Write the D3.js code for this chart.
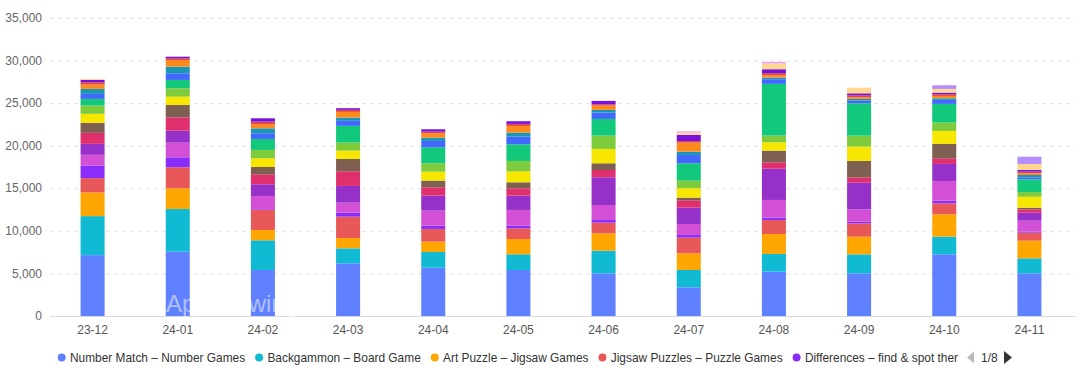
<!DOCTYPE html>
<html>
<head>
<meta charset="utf-8">
<script src="https://cdn.jsdelivr.net/npm/d3@7"></script>
<style>
  body { margin: 0; background: #fff; }
  svg { display: block; font-family: "Liberation Sans", Arial, Helvetica, sans-serif; }
</style>
</head>
<body>
<div id="chart"></div>
<script>
const months = ["23-12", "24-01", "24-02", "24-03", "24-04", "24-05", "24-06", "24-07", "24-08", "24-09", "24-10", "24-11"]

// series values, bottom of the stack first
const numberMatch = [7150, 7560, 5405, 6190, 5680, 5405, 5010, 3370, 5210, 5010, 7245, 5010]
const backgammon = [4580, 5010, 3485, 1760, 1840, 1840, 2665, 2035, 2075, 2230, 2075, 1760]
const artPuzzle = [2780, 2430, 1215, 1215, 1215, 1800, 2035, 1960, 2350, 2075, 2625, 2075]
const jigsawPuzzles = [1680, 2465, 2350, 2505, 1490, 1255, 1255, 1840, 1645, 1565, 1290, 940]
const differences = [1490, 1175, 80, 470, 390, 315, 315, 315, 275, 195, 315, 120]
const series6 = [1250, 1720, 1565, 1175, 1760, 1840, 1760, 1290, 2075, 1450, 2310, 1290]
const series7 = [1290, 1410, 1370, 1960, 1760, 1685, 3250, 1920, 3680, 3135, 2000, 940]
const series8 = [1290, 1565, 1175, 1725, 980, 860, 860, 860, 745, 625, 665, 390]
const series9 = [1175, 1450, 860, 1450, 785, 705, 785, 315, 1370, 1920, 1685, 195]
const series10 = [1055, 980, 1020, 980, 1055, 1290, 1685, 1095, 980, 1685, 1525, 1290]
const series11 = [980, 980, 980, 940, 980, 1215, 1565, 900, 785, 1290, 980, 550]
const series12 = [780, 980, 1290, 1960, 1880, 1960, 1960, 2035, 6070, 3800, 2195, 1490]
const series13 = [585, 780, 665, 590, 745, 900, 745, 980, 550, 315, 470, 235]
const series14 = [585, 780, 585, 390, 390, 470, 315, 390, 195, 195, 195, 275]
const series15 = [510, 780, 470, 665, 510, 785, 510, 1055, 275, 195, 275, 195]
const series16 = [275, 195, 315, 235, 195, 235, 155, 195, 235, 235, 195, 195]
const series17 = [275, 195, 390, 195, 275, 315, 390, 705, 470, 235, 195, 195]
const series18 = [117, 0, 0, 0, 0, 0, 0, 275, 665, 665, 430, 705]
const series19 = [0, 0, 0, 0, 0, 0, 0, 155, 195, 0, 0, 0]
const series20 = [0, 0, 0, 0, 0, 0, 0, 0, 0, 0, 430, 860]

const seriesNames = [
  "Number Match – Number Games",
  "Backgammon – Board Game",
  "Art Puzzle – Jigsaw Games",
  "Jigsaw Puzzles – Puzzle Games",
  "Differences – find & spot ther",
  "Series 6", "Series 7", "Series 8", "Series 9", "Series 10",
  "Series 11", "Series 12", "Series 13", "Series 14", "Series 15",
  "Series 16", "Series 17", "Series 18", "Series 19", "Series 20"
]
const seriesValues = [
  numberMatch, backgammon, artPuzzle, jigsawPuzzles, differences,
  series6, series7, series8, series9, series10,
  series11, series12, series13, series14, series15,
  series16, series17, series18, series19, series20
]
const colors = [
  "#5f80ff", "#10bad3", "#ffa600", "#e85858", "#8a2dfb",
  "#d24fd6", "#9531c8", "#df306d", "#7e6052", "#f6e600",
  "#7ecb3e", "#12c97b", "#4368ff", "#1a97b5", "#ff8a1c",
  "#e04646", "#7a10de", "#ffd78e", "#eea0f0", "#b48eff"
]
const yTicks = [0, 5000, 10000, 15000, 20000, 25000, 30000, 35000]

const width = 1080
const height = 373

const rows = months.map((m, i) => {
  const row = { month: m }
  seriesNames.forEach((s, j) => (row[s] = seriesValues[j][i]))
  return row
})

const stacked = d3.stack().keys(seriesNames)(rows)

const x = d3
  .scaleBand()
  .domain(months)
  .range([50, 1072])
  .paddingInner(0.718)
  .paddingOuter(0.359)

const y = d3.scaleLinear().domain([0, 35000]).range([316, 18])

const svg = d3
  .select("#chart")
  .append("svg")
  .attr("width", width)
  .attr("height", height)

// grid
svg
  .append("g")
  .selectAll("line")
  .data(yTicks.filter(d => d > 0))
  .enter()
  .append("line")
  .attr("x1", 50)
  .attr("x2", 1075)
  .attr("y1", d => y(d) + 0.5)
  .attr("y2", d => y(d) + 0.5)
  .style("stroke", "#e3e3e3")
  .style("stroke-dasharray", "4,4")

svg
  .append("line")
  .attr("x1", 50)
  .attr("x2", 1075)
  .attr("y1", y(0) + 0.5)
  .attr("y2", y(0) + 0.5)
  .style("stroke", "#d9d9d9")

// y labels
svg
  .append("g")
  .selectAll("text")
  .data(yTicks)
  .enter()
  .append("text")
  .attr("x", 42)
  .attr("y", d => y(d))
  .attr("dy", "0.35em")
  .attr("text-anchor", "end")
  .style("font-size", "12px")
  .style("fill", "#666")
  .text(d => d3.format(",")(d))

// x labels
svg
  .append("g")
  .selectAll("text")
  .data(months)
  .enter()
  .append("text")
  .attr("x", d => x(d) + x.bandwidth() / 2)
  .attr("y", 334)
  .attr("text-anchor", "middle")
  .style("font-size", "12px")
  .style("fill", "#555")
  .text(d => d)

// bars
svg
  .append("g")
  .selectAll("g")
  .data(stacked)
  .enter()
  .append("g")
  .style("fill", (d, i) => colors[i])
  .selectAll("rect")
  .data(d => d)
  .enter()
  .append("rect")
  .attr("x", d => x(d.data.month))
  .attr("width", x.bandwidth())
  .attr("y", d => y(d[1]))
  .attr("height", d => Math.max(0, y(d[0]) - y(d[1])))

// watermark
svg
  .append("text")
  .attr("x", 166)
  .attr("y", 312)
  .style("font-size", "24px")
  .style("fill", "#fff")
  .style("opacity", 0.5)
  .text("AppGrowing")

// legend, first page
const legend = svg.append("g")
let lx = 61.7
const ly = 357.5
seriesNames.slice(0, 5).forEach((name, i) => {
  legend
    .append("circle")
    .attr("cx", lx)
    .attr("cy", ly)
    .attr("r", 4)
    .style("fill", colors[i])
  const t = legend
    .append("text")
    .attr("x", lx + 8.3)
    .attr("y", ly)
    .attr("dy", "0.35em")
    .style("font-size", "11.9px")
    .style("fill", "#333")
    .text(name)
  lx = lx + 8.3 + t.node().getComputedTextLength() + 14
})

// pager
legend
  .append("path")
  .attr("d", "M974,351.5 L967,357.5 L974,363.5 Z")
  .style("fill", "#bbb")
legend
  .append("text")
  .attr("x", 981)
  .attr("y", ly)
  .attr("dy", "0.35em")
  .style("font-size", "12px")
  .style("fill", "#333")
  .text("1/8")
legend
  .append("path")
  .attr("d", "M1004,351 L1012,357.5 L1004,364 Z")
  .style("fill", "#333")
</script>
</body>
</html>
